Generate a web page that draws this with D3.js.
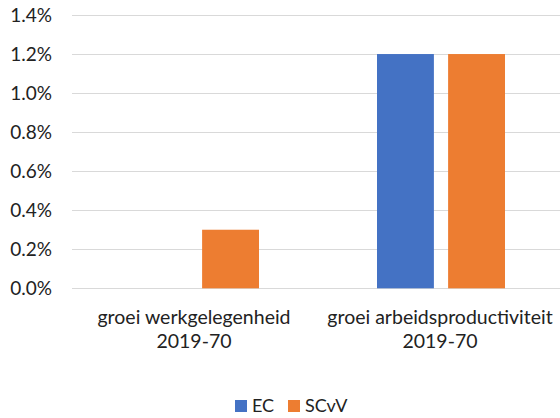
<!DOCTYPE html>
<html lang="nl">
<head>
<meta charset="utf-8">
<title>Groei 2019-70</title>
<style type="text/css">
body { margin: 0; background: #fff; }
text { font-family: Lato, "Open Sans", sans-serif; fill: #222; }
.grid line { stroke: #d9d9d9; stroke-width: 1px; }
</style>
</head>
<body>
<svg width="560" height="418"></svg>
<script src="https://d3js.org/d3.v7.min.js"></script>
<script>
// data
var categories = ["groei werkgelegenheid|2019-70", "groei arbeidsproductiviteit|2019-70"];
var series = ["EC", "SCvV"];
var ecValues = [0.0, 1.2];
var scvvValues = [0.3, 1.2];
var yTicks = [0, 0.2, 0.4, 0.6, 0.8, 1.0, 1.2, 1.4];
var colors = ["#4472c4", "#ed7d31"];

var svg = d3.select("svg"),
    plotLeft = 72, plotRight = 564, plotTop = 15, plotBottom = 288.3;

var y = d3.scaleLinear().domain([0, 1.4]).range([plotBottom, plotTop]);
var x0 = d3.scaleBand().domain(categories).range([plotLeft, plotRight]);
var x1 = d3.scaleBand().domain(series).range([59, 187]).paddingInner(0.2);
var color = d3.scaleOrdinal().domain(series).range(colors);

// gridlines
svg.append("g").attr("class", "grid")
  .selectAll("line").data(yTicks).enter().append("line")
    .attr("x1", plotLeft).attr("x2", 560)
    .attr("y1", function(d) { return Math.round(y(d)) + 0.5; })
    .attr("y2", function(d) { return Math.round(y(d)) + 0.5; });

// y tick labels
svg.append("g").selectAll("text").data(yTicks).enter().append("text")
    .attr("x", 52)
    .attr("y", function(d) { return y(d); })
    .attr("dy", "0.36em")
    .attr("text-anchor", "end")
    .style("font-size", "19px")
    .text(function(d) { return d3.format(".1f")(d) + "%"; });

// bars
var rows = categories.map(function(c, i) {
  return { cat: c, vals: [ {s: "EC", v: ecValues[i]}, {s: "SCvV", v: scvvValues[i]} ] };
});

var groups = svg.append("g").selectAll("g").data(rows).enter().append("g")
    .attr("transform", function(d) { return "translate(" + x0(d.cat) + ",0)"; });

groups.selectAll("rect").data(function(d) { return d.vals.filter(function(e) { return e.v > 0; }); })
  .enter().append("rect")
    .attr("x", function(d) { return x1(d.s); })
    .attr("width", x1.bandwidth())
    .attr("y", function(d) { return y(d.v); })
    .attr("height", function(d) { return y(0) - y(d.v); })
    .attr("fill", function(d) { return color(d.s); });

// category labels
var labels = svg.append("g").selectAll("text").data(categories).enter().append("text")
    .attr("text-anchor", "middle")
    .style("font-size", "19.5px");
labels.each(function(d) {
  var t = d3.select(this), cx = x0(d) + x0.bandwidth() / 2 - 1;
  d.split("|").forEach(function(line, i) {
    t.append("tspan").attr("x", cx).attr("y", 324 + i * 23.5).text(line);
  });
});

// legend
var legend = svg.append("g").selectAll("g").data(series).enter().append("g")
    .attr("transform", function(d, i) { return "translate(" + [235, 288][i] + ",400)"; });
legend.append("rect").attr("width", 12).attr("height", 12)
    .attr("fill", function(d) { return color(d); });
legend.append("text").attr("x", 17).attr("y", 12)
    .style("font-size", "18px")
    .text(function(d) { return d; });
</script>
</body>
</html>
